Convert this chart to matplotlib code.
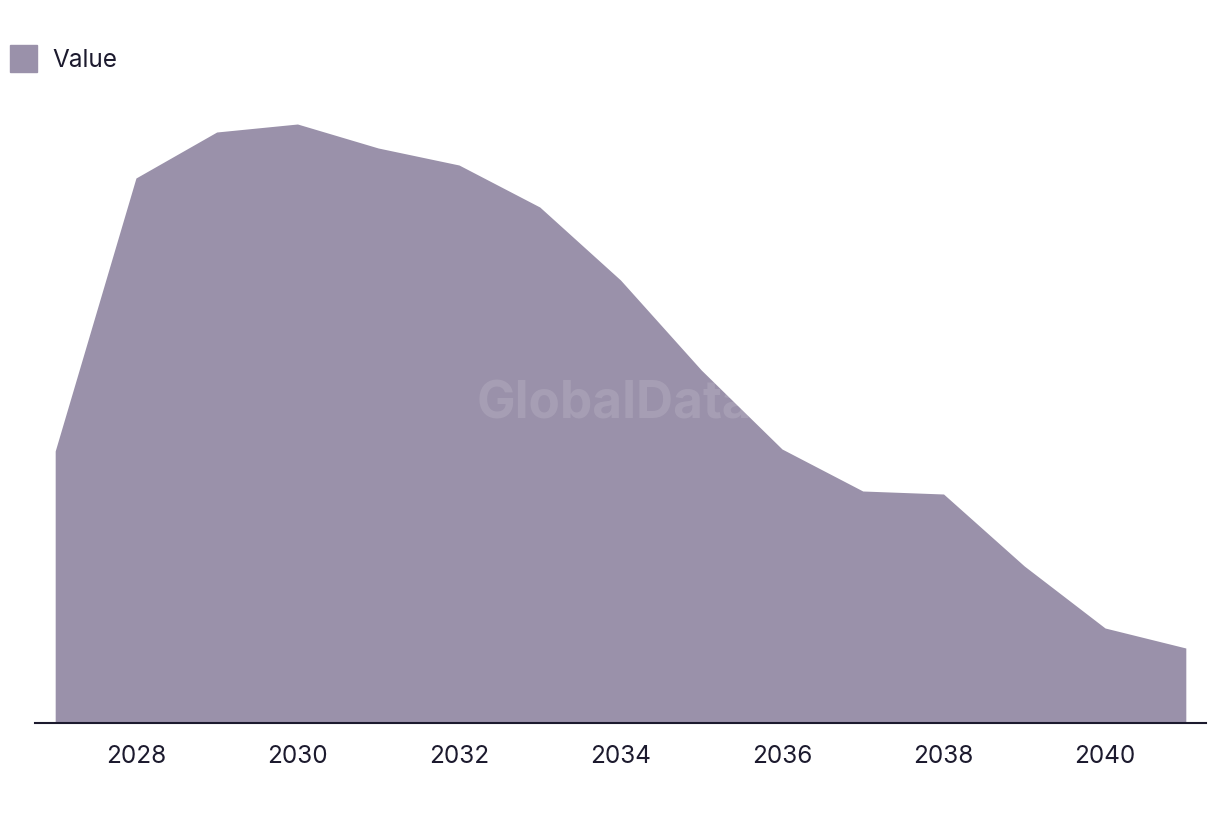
import matplotlib
matplotlib.use("Agg")
import matplotlib.pyplot as plt
import matplotlib.patches as mpatches

# ---------------------------------------------------------------------------
# DATA (y axis is unlabelled)
# ---------------------------------------------------------------------------
years = [2027, 2028, 2029, 2030, 2031, 2032, 2033, 2034,
         2035, 2036, 2037, 2038, 2039, 2040, 2041]
values = [272, 545, 591, 599, 575, 558, 516, 443,
          353, 274, 232, 229, 157, 95, 75]
tick_years = [2028, 2030, 2032, 2034, 2036, 2038, 2040]
series_name = "Value"

FILL = "#9a91aa"
TEXT = "#1c1a2e"

plt.rcParams["font.family"] = ["Inter", "DejaVu Sans"]

fig = plt.figure(figsize=(12.2, 8.14), dpi=100)
ax = fig.add_axes([35 / 1220, 91 / 814, 1171 / 1220, 623 / 814])

ax.fill_between(years, values, 0, color=FILL, linewidth=0, zorder=2)

ax.set_xlim(2026.75, 2041.25)
ax.set_ylim(0, 623)
ax.set_xticks(tick_years)
ax.set_xticklabels([str(y) for y in tick_years], fontsize=17.5, color=TEXT)
ax.tick_params(axis="x", length=0, pad=16)
ax.set_yticks([])

for side in ["top", "right", "left"]:
    ax.spines[side].set_visible(False)
ax.spines["bottom"].set_color(TEXT)
ax.spines["bottom"].set_linewidth(1.5)
ax.spines["bottom"].set_zorder(3)

# watermark
ax.text(0.504, 0.502, "GlobalData", transform=fig.transFigure,
        ha="center", va="center", fontsize=37, fontweight="bold",
        color="white", alpha=0.12, zorder=5)

# legend
handle = mpatches.Patch(color=FILL, label=series_name)
fig.legend(handles=[handle], loc="upper left",
           bbox_to_anchor=(10 / 1220, 1 - 45 / 814),
           frameon=False, fontsize=17.5, handlelength=1.1, handleheight=1.35,
           handletextpad=0.65, borderpad=0, borderaxespad=0,
           labelcolor=TEXT)

fig.savefig("out.png", dpi=100)
